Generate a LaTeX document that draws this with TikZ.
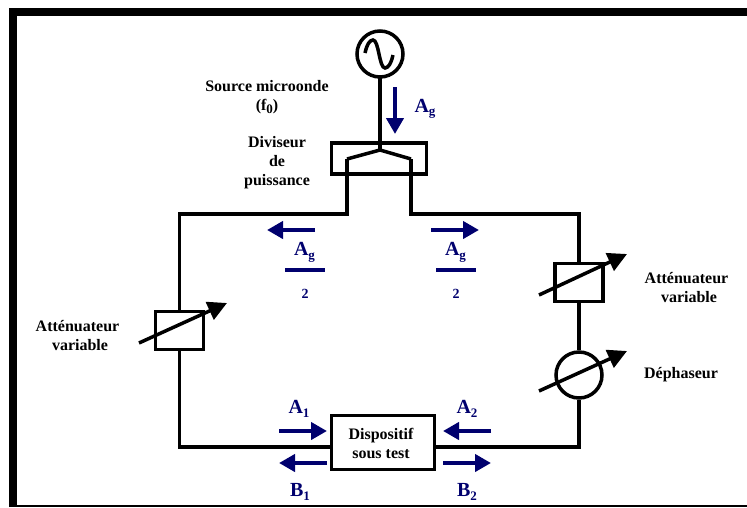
\documentclass[tikz,border=0pt]{standalone}
\usepackage{fontspec}
\setmainfont{Liberation Serif}
\usepackage{tikz}
\usetikzlibrary{arrows.meta,positioning}
\definecolor{sigblue}{RGB}{0,0,110}
\newcommand{\lowidx}[1]{\raisebox{-3.5pt}{\fontsize{13}{13}\selectfont #1}}

\begin{document}
\begin{tikzpicture}[
  x=1pt,y=-1pt,
  wire/.style={line width=3.5pt,line join=miter},
  blk/.style={draw,line width=3.5pt,fill=white,inner sep=0pt},
  rnd/.style={blk,circle,minimum size=46pt},
  lbl/.style={font=\bfseries\fontsize{16}{19}\selectfont,align=center,inner sep=0pt},
  sig/.style={font=\bfseries\fontsize{20}{20}\selectfont,text=sigblue,inner sep=0pt},
  two/.style={font=\bfseries\fontsize{14}{14}\selectfont,text=sigblue,inner sep=0pt},
  ar/.style={-{Triangle[length=16pt,width=17pt]},line width=4pt,sigblue},
  tune/.style={-{Triangle[length=19pt,width=19pt]},line width=3.5pt},
  bar/.style={line width=4pt,sigblue}
]
\useasboundingbox (0,0) rectangle (747,507);
% Frame
\coordinate (fa) at (13,507);
\coordinate (fb) at (13,12);
\coordinate (fc) at (747,12);
\coordinate (fd) at (17,506);
\coordinate (fe) at (747,506);
\draw[line width=8pt] (fa)--(fb)--(fc);
\draw[line width=2pt] (fd)--(fe);

% Source and divider
\node[rnd] (src) at (380,54) {};
\node[blk,minimum width=95pt,minimum height=31pt] (dv) at (379,158.5) {};
\coordinate (stem) at (380,78);
\coordinate (top) at (380,150);
\coordinate (kl) at (347,159);
\coordinate (kr) at (411,159);
\coordinate (ul) at (347,214);
\coordinate (ur) at (411,214);
\coordinate (cl) at (179.5,214);
\coordinate (cr) at (579,214);
\coordinate (bl) at (179.5,447);
\coordinate (br) at (579,447);
\coordinate (dl) at (331,447);
\coordinate (dr) at (435,447);
\draw[wire] (365,53) .. controls (367,44) and (370,40) .. (373,40)
  .. controls (379,40) and (379,68) .. (385,68)
  .. controls (388,68) and (391,64) .. (393,55);

% Loop blocks
\node[blk,minimum width=48pt,minimum height=38pt] (attl) at (179.5,330.5) {};
\node[blk,minimum width=48pt,minimum height=38pt] (attr) at (579,282.5) {};
\node[rnd] (ph) at (579,375) {};
\node[blk,minimum width=103pt,minimum height=54pt,lbl] (dut) at (383,442.5) {};

% Wires
\draw[wire] (stem)--(top);
\draw[wire] (kl)--(top)--(kr);
\draw[wire] (kl)--(ul)--(cl)--(attl);
\draw[wire] (kr)--(ur)--(cr)--(attr);
\draw[wire] (attr)--(ph);
\draw[wire] (ph)--(br)--(dr);
\draw[wire] (attl)--(bl)--(dl);

% Tuning arrows
\coordinate (tla) at (139,343);
\coordinate (tlb) at (227,303);
\coordinate (tra) at (539,295);
\coordinate (trb) at (627,254);
\coordinate (tpa) at (539,391);
\coordinate (tpb) at (627,351);
\draw[tune] (tla)--(tlb);
\draw[tune] (tra)--(trb);
\draw[tune] (tpa)--(tpb);

% Signal arrows
\coordinate (a0) at (395,87);
\coordinate (a0e) at (395,134);
\coordinate (a3) at (315,230);
\coordinate (a3e) at (267,230);
\coordinate (a4) at (431,230);
\coordinate (a4e) at (479,230);
\coordinate (a1) at (279,431);
\coordinate (a1e) at (327,431);
\coordinate (a2) at (491,431);
\coordinate (a2e) at (443,431);
\coordinate (b1) at (327,463);
\coordinate (b1e) at (279,463);
\coordinate (b2) at (443,463);
\coordinate (b2e) at (491,463);
\draw[ar] (a0)--(a0e);
\draw[ar] (a3)--(a3e);
\draw[ar] (a4)--(a4e);
\draw[ar] (a1)--(a1e);
\draw[ar] (a2)--(a2e);
\draw[ar] (b1)--(b1e);
\draw[ar] (b2)--(b2e);

% Fractions
\coordinate (fla) at (285,270);
\coordinate (flb) at (325,270);
\coordinate (fra) at (436,270);
\coordinate (frb) at (476,270);
\draw[bar] (fla)--(flb);
\draw[bar] (fra)--(frb);
\node[sig] (lag) at (304.5,252.5) {A\lowidx{g}};
\node[sig] (rag) at (455.5,252.5) {A\lowidx{g}};
\node[two] (ltwo) at (305,294) {2};
\node[two] (rtwo) at (456,294) {2};

% Signal labels
\node[sig] (ag) at (425,109) {A\lowidx{g}};
\node[sig] (la1) at (299,409) {A\lowidx{1}};
\node[sig] (la2) at (467,409) {A\lowidx{2}};
\node[sig] (lb1) at (300,492) {B\lowidx{1}};
\node[sig] (lb2) at (467,492) {B\lowidx{2}};

% Text labels
\node[lbl] (tsrc) at (267,97) {Source microonde\\(f\lowidx{0})};
\node[lbl] (tdv) at (277,163) {Diviseur\\de\\puissance};
\node[lbl] (tal) at (77.5,336) {Att\'enuateur\\\hspace*{5pt}variable};
\node[lbl] (tar) at (686.5,288) {Att\'enuateur\\\hspace*{5pt}variable};
\node[lbl] (tph) at (681,374.5) {D\'ephaseur};
\node[lbl] (tdut) at (381,443) {Dispositif\\sous test};
\end{tikzpicture}
\end{document}
